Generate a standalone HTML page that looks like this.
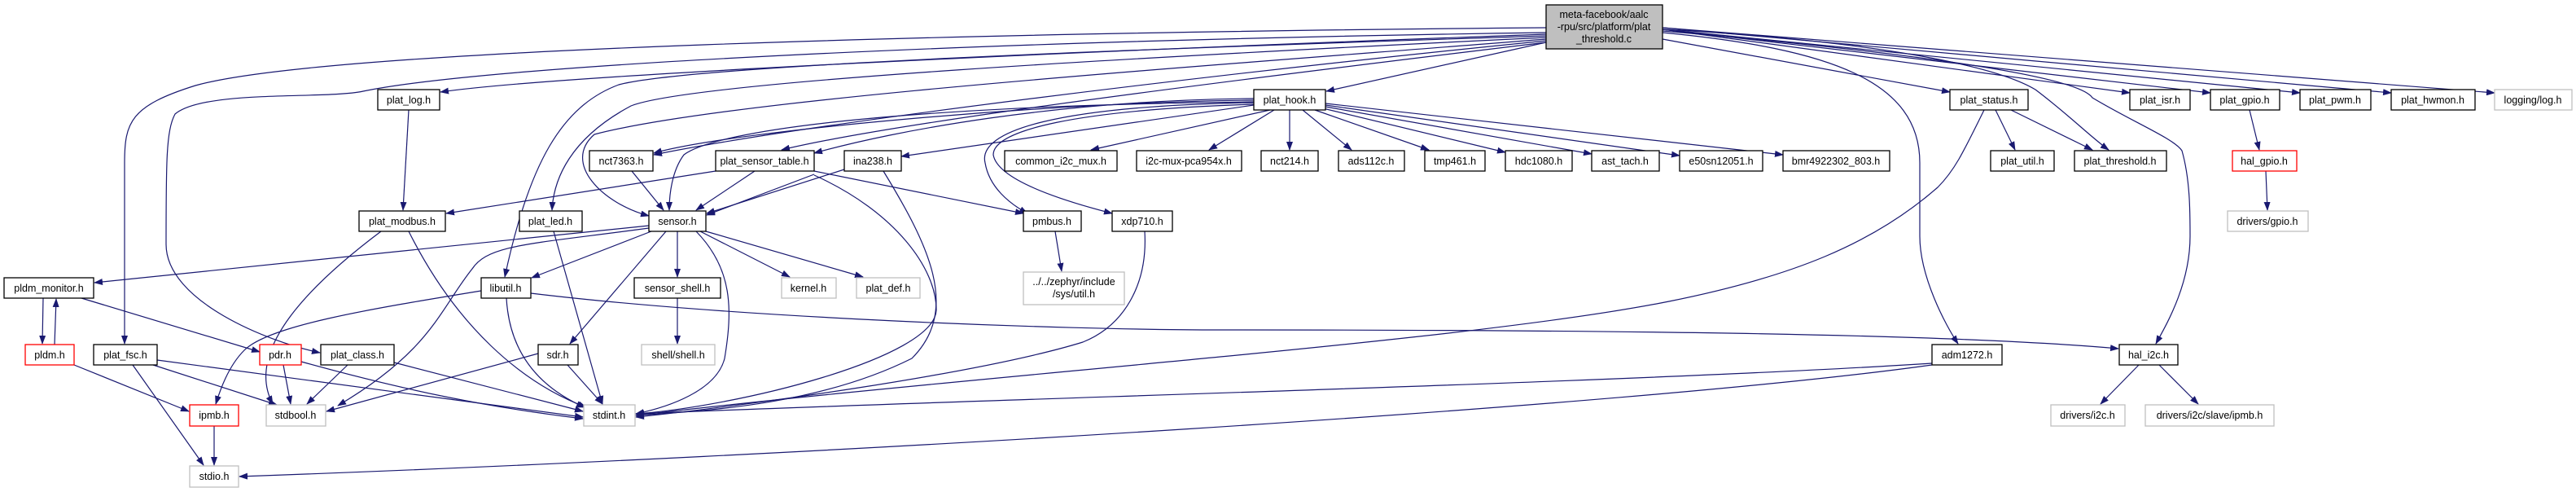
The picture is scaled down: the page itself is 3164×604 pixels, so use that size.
<!DOCTYPE html>
<html><head><meta charset="utf-8"><style>
html,body{margin:0;padding:0;background:#fff;}
svg{display:block;}
text{font-family:"Liberation Sans Narrow","Liberation Sans",sans-serif;font-size:12.5px;fill:#000;}
.e{fill:none;stroke:#191970;stroke-width:1.2;marker-end:url(#a);}
.n{fill:#fff;stroke:#000;stroke-width:1.3;}
.g{fill:#fff;stroke:#bfbfbf;stroke-width:1.3;}
.r{fill:#fff;stroke:#ff0000;stroke-width:1.3;}
</style></head><body>
<svg width="3164" height="604" viewBox="0 0 3164 604" xmlns="http://www.w3.org/2000/svg">
<defs><marker id="a" markerUnits="userSpaceOnUse" markerWidth="11" markerHeight="8" refX="10" refY="4" orient="auto"><path d="M0,0 L11,4 L0,8 z" fill="#191970"/></marker></defs>
<g>
<!-- main edges -->
<path class="e" d="M1899,34 C1200,40 400,60 240,105 C160,130 153,150 153,200 L153,422"/>
<path class="e" d="M1899,40 C1200,50 600,80 446,112 C400,122 250,110 215,140 C204,160 204,200 204,300 C204,370 330,420 393,433"/>
<path class="e" d="M1899,42 C1400,60 700,90 541,113"/>
<path class="e" d="M1899,44 C1400,60 850,80 760,104 C690,130 650,200 620,340"/>
<path class="e" d="M1899,46 C1400,70 850,100 775,130 C700,170 680,220 678,258"/>
<path class="e" d="M1899,48 C1500,80 900,120 730,165 C690,200 740,250 797,265"/>
<path class="e" d="M1899,50 C1500,90 1000,150 803,190"/>
<path class="e" d="M1899,52 C1500,100 1100,150 960,184"/>
<path class="e" d="M1899,52 L1629,112"/>
<path class="e" d="M2042,40 C2250,60 2358,100 2358,200 L2358,290 C2358,340 2390,400 2405,422"/>
<path class="e" d="M2042,38 C2300,60 2550,90 2570,120 C2620,150 2670,170 2680,185 C2690,220 2690,260 2690,290 C2690,350 2660,400 2648,422"/>
<path class="e" d="M2042,36 C2300,50 2450,80 2500,110 C2540,140 2570,170 2590,184"/>
<path class="e" d="M2042,48 L2395,113"/>
<path class="e" d="M2042,36 L2616,114"/>
<path class="e" d="M2042,36 L2715,114"/>
<path class="e" d="M2042,36 L2825,114"/>
<path class="e" d="M2042,34 L2937,114"/>
<path class="e" d="M2042,34 L3064,114"/>
<!-- plat_hook -->
<path class="e" d="M1560,135 L1340,184"/>
<path class="e" d="M1565,135 L1485,184"/>
<path class="e" d="M1584,135 L1584,184"/>
<path class="e" d="M1600,135 L1660,184"/>
<path class="e" d="M1615,135 L1755,184"/>
<path class="e" d="M1625,133 L1849,187"/>
<path class="e" d="M1628,131 L1955,189"/>
<path class="e" d="M1628,129 L2063,191"/>
<path class="e" d="M1628,127 L2190,190"/>
<path class="e" d="M1540,129 L1107,192"/>
<path class="e" d="M1540,123 C1300,125 900,160 803,188"/>
<path class="e" d="M1540,125 C1100,130 880,160 840,190 C825,210 822,240 822,258"/>
<path class="e" d="M1540,121 C1300,123 1100,160 1000,188"/>
<path class="e" d="M1540,126 C1300,130 1200,160 1210,200 C1215,230 1240,250 1262,262"/>
<path class="e" d="M1540,128 C1320,135 1220,160 1220,190 C1225,220 1300,245 1366,262"/>
<!-- plat_sensor_table -->
<path class="e" d="M879,210 L548,262"/>
<path class="e" d="M927,210 L855,258"/>
<path class="e" d="M1000,214 L868,264"/>
<path class="e" d="M1000,210 L1257,262"/>
<path class="e" d="M1000,215 C1100,260 1150,330 1150,380 C1150,440 900,500 781,508"/>
<!-- ina238 -->
<path class="e" d="M1037,208 L868,262"/>
<path class="e" d="M1085,210 C1140,300 1180,380 1120,440 C1000,500 850,505 781,510"/>
<path class="e" d="M776,210 L815,258"/>
<path class="e" d="M502,135 L495,258"/>
<path class="e" d="M468,284 C380,350 300,430 335,496"/>
<path class="e" d="M502,284 C560,400 640,470 720,500"/>
<path class="e" d="M680,284 L740,496"/>
<!-- sensor -->
<path class="e" d="M797,277 L116,347"/>
<path class="e" d="M797,280 C650,300 600,300 580,330 C540,380 530,430 415,498"/>
<path class="e" d="M800,284 L653,341"/>
<path class="e" d="M818,284 L700,422"/>
<path class="e" d="M832,284 L832,340"/>
<path class="e" d="M855,284 C900,330 900,380 890,440 C880,480 820,500 781,508"/>
<path class="e" d="M860,284 L970,340"/>
<path class="e" d="M867,284 L1060,340"/>
<path class="e" d="M832,366 L832,422"/>
<!-- libutil -->
<path class="e" d="M591,357 C450,380 330,400 300,430 C280,450 270,480 265,496"/>
<path class="e" d="M622,366 C625,420 650,470 718,500"/>
<path class="e" d="M652,360 C900,390 1300,405 1500,405 C2000,405 2400,410 2602,428"/>
<!-- pldm -->
<path class="e" d="M53,366 L52,422"/>
<path class="e" d="M67,423 L69,367"/>
<path class="e" d="M100,366 L319,432"/>
<path class="e" d="M91,448 L232,505"/>
<path class="e" d="M163,448 L250,571"/>
<path class="e" d="M188,448 L340,497"/>
<path class="e" d="M193,442 L716,512"/>
<path class="e" d="M348,448 L357,496"/>
<path class="e" d="M370,444 C500,480 600,500 716,514"/>
<path class="e" d="M427,448 L377,496"/>
<path class="e" d="M484,445 L716,505"/>
<path class="e" d="M661,434 L401,505"/>
<path class="e" d="M697,448 L740,496"/>
<path class="e" d="M263,523 L263,571"/>
<!-- right side -->
<path class="e" d="M2373,446 C2000,470 1200,490 781,508"/>
<path class="e" d="M2373,448 C2000,500 1000,560 294,585"/>
<path class="e" d="M2451,135 L2475,184"/>
<path class="e" d="M2470,135 L2570,184"/>
<path class="e" d="M2437,135 C2410,190 2400,210 2380,230 C2300,300 2200,340 2050,370 C1800,420 1200,460 781,510"/>
<path class="e" d="M1406,284 C1410,350 1380,400 1330,420 C1200,460 900,500 781,512"/>
<path class="e" d="M1296,284 L1304,333"/>
<path class="e" d="M2763,135 L2775,184"/>
<path class="e" d="M2783,210 L2785,258"/>
<path class="e" d="M2627,448 L2580,496"/>
<path class="e" d="M2652,448 L2700,496"/>
</g>
<g text-anchor="middle">
<rect x="1899" y="6" width="143" height="54" fill="#bfbfbf" stroke="#000" stroke-width="1.3"/>
<text x="1970" y="22">meta-facebook/aalc</text><text x="1970" y="37">-rpu/src/platform/plat</text><text x="1970" y="52">_threshold.c</text>
<rect class="n" x="464" y="110" width="76" height="25"/><text x="502" y="127">plat_log.h</text>
<rect class="n" x="1540" y="110" width="88" height="25"/><text x="1584" y="127">plat_hook.h</text>
<rect class="n" x="2395" y="110" width="96" height="25"/><text x="2443" y="127">plat_status.h</text>
<rect class="n" x="2616" y="110" width="74" height="25"/><text x="2653" y="127">plat_isr.h</text>
<rect class="n" x="2715" y="110" width="85" height="25"/><text x="2757" y="127">plat_gpio.h</text>
<rect class="n" x="2825" y="110" width="87" height="25"/><text x="2868" y="127">plat_pwm.h</text>
<rect class="n" x="2937" y="110" width="103" height="25"/><text x="2988" y="127">plat_hwmon.h</text>
<rect class="g" x="3064" y="110" width="95" height="25"/><text x="3111" y="127">logging/log.h</text>

<rect class="n" x="724" y="185" width="78" height="25"/><text x="763" y="202">nct7363.h</text>
<rect class="n" x="879" y="185" width="121" height="25"/><text x="939" y="202">plat_sensor_table.h</text>
<rect class="n" x="1037" y="185" width="70" height="25"/><text x="1072" y="202">ina238.h</text>
<rect class="n" x="1234" y="185" width="138" height="25"/><text x="1303" y="202">common_i2c_mux.h</text>
<rect class="n" x="1396" y="185" width="129" height="25"/><text x="1460" y="202">i2c-mux-pca954x.h</text>
<rect class="n" x="1549" y="185" width="70" height="25"/><text x="1584" y="202">nct214.h</text>
<rect class="n" x="1644" y="185" width="81" height="25"/><text x="1684" y="202">ads112c.h</text>
<rect class="n" x="1750" y="185" width="74" height="25"/><text x="1787" y="202">tmp461.h</text>
<rect class="n" x="1849" y="185" width="82" height="25"/><text x="1890" y="202">hdc1080.h</text>
<rect class="n" x="1955" y="185" width="83" height="25"/><text x="1996" y="202">ast_tach.h</text>
<rect class="n" x="2063" y="185" width="102" height="25"/><text x="2114" y="202">e50sn12051.h</text>
<rect class="n" x="2190" y="185" width="131" height="25"/><text x="2255" y="202">bmr4922302_803.h</text>
<rect class="n" x="2445" y="185" width="78" height="25"/><text x="2484" y="202">plat_util.h</text>
<rect class="n" x="2548" y="185" width="113" height="25"/><text x="2604" y="202">plat_threshold.h</text>
<rect class="r" x="2742" y="185" width="79" height="25"/><text x="2781" y="202">hal_gpio.h</text>

<rect class="n" x="441" y="259" width="106" height="25"/><text x="494" y="276">plat_modbus.h</text>
<rect class="n" x="638" y="259" width="77" height="25"/><text x="676" y="276">plat_led.h</text>
<rect class="n" x="797" y="259" width="70" height="25"/><text x="832" y="276">sensor.h</text>
<rect class="n" x="1257" y="259" width="71" height="25"/><text x="1292" y="276">pmbus.h</text>
<rect class="n" x="1366" y="259" width="74" height="25"/><text x="1403" y="276">xdp710.h</text>
<rect class="g" x="2736" y="259" width="99" height="25"/><text x="2785" y="276">drivers/gpio.h</text>

<rect class="n" x="5" y="341" width="110" height="25"/><text x="60" y="358">pldm_monitor.h</text>
<rect class="n" x="591" y="341" width="61" height="25"/><text x="621" y="358">libutil.h</text>
<rect class="n" x="779" y="341" width="106" height="25"/><text x="832" y="358">sensor_shell.h</text>
<rect class="g" x="960" y="341" width="67" height="25"/><text x="993" y="358">kernel.h</text>
<rect class="g" x="1052" y="341" width="78" height="25"/><text x="1091" y="358">plat_def.h</text>
<rect class="g" x="1257" y="334" width="124" height="40"/><text x="1319" y="350">../../zephyr/include</text><text x="1319" y="365">/sys/util.h</text>

<rect class="r" x="31" y="423" width="60" height="25"/><text x="61" y="440">pldm.h</text>
<rect class="n" x="115" y="423" width="78" height="25"/><text x="154" y="440">plat_fsc.h</text>
<rect class="r" x="319" y="423" width="51" height="25"/><text x="344" y="440">pdr.h</text>
<rect class="n" x="394" y="423" width="90" height="25"/><text x="439" y="440">plat_class.h</text>
<rect class="n" x="661" y="423" width="49" height="25"/><text x="685" y="440">sdr.h</text>
<rect class="g" x="788" y="423" width="90" height="25"/><text x="833" y="440">shell/shell.h</text>
<rect class="n" x="2373" y="423" width="86" height="25"/><text x="2416" y="440">adm1272.h</text>
<rect class="n" x="2603" y="423" width="72" height="25"/><text x="2639" y="440">hal_i2c.h</text>

<rect class="r" x="233" y="497" width="60" height="26"/><text x="263" y="514">ipmb.h</text>
<rect class="g" x="327" y="497" width="73" height="26"/><text x="363" y="514">stdbool.h</text>
<rect class="g" x="717" y="497" width="63" height="26"/><text x="748" y="514">stdint.h</text>
<rect class="g" x="2519" y="497" width="91" height="26"/><text x="2564" y="514">drivers/i2c.h</text>
<rect class="g" x="2635" y="497" width="158" height="26"/><text x="2714" y="514">drivers/i2c/slave/ipmb.h</text>

<rect class="g" x="233" y="572" width="60" height="26"/><text x="263" y="589">stdio.h</text>
</g>
</svg>
</body></html>
